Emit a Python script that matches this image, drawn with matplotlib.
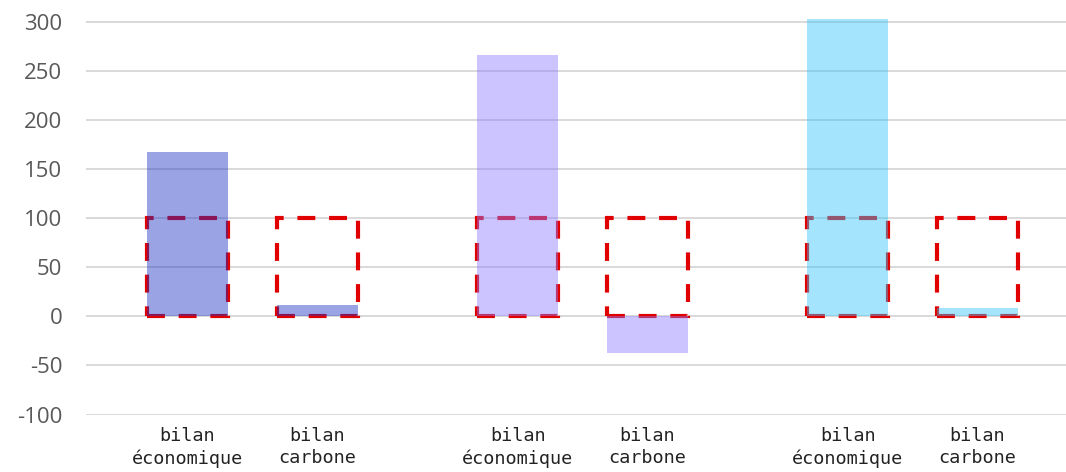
import numpy as np
import matplotlib
matplotlib.use("Agg")
import matplotlib.pyplot as plt

# data
labels = ["bilan\néconomique", "bilan\ncarbone"] * 3
values = [168, 12, 266, -37, 303, 9]
reference_box = [100, 100, 100, 100, 100, 100]
group_colors = ["#1f35c4", "#8e7cff", "#35c4f9"]

yticks = [-100, -50, 0, 50, 100, 150, 200, 250, 300]

# layout
group_step = 2.55
bar_w = 0.625
x = np.array([g * group_step + i for g in range(3) for i in range(2)])
colors = [c for c in group_colors for _ in range(2)]

fig = plt.figure(figsize=(10.66, 4.72), dpi=100)
ax = fig.add_axes([0.0807, 0.1218, 0.9193, 0.844])

# red dashed reference boxes (0 -> 100), under the bars
ax.bar(x, reference_box, width=bar_w, fill=False, edgecolor="#e00000",
       linewidth=3, linestyle=(0, (4.3, 3.3)), zorder=2)

# translucent bars on top
ax.bar(x, values, width=bar_w, color=colors, alpha=0.45, linewidth=0, zorder=3)

ax.set_xlim(x[0] - 0.784, x[-1] + 0.684)
ax.set_ylim(-100, 306)
ax.set_yticks(yticks)
ax.set_yticklabels([str(v) for v in yticks], fontsize=16, family="Open Sans",
                   color="#595959")
ax.set_xticks(x)
ax.set_xticklabels(labels, fontsize=13.3, family="DejaVu Sans Mono", color="#222222",
                   linespacing=1.3)
ax.tick_params(axis="y", length=0, pad=17)
ax.tick_params(axis="x", length=0, pad=9)

ax.grid(axis="y", color="#d9d9d9", linewidth=1.4, zorder=0)
ax.set_axisbelow(True)
for s in ax.spines.values():
    s.set_visible(False)

fig.savefig("out.png", dpi=100)
